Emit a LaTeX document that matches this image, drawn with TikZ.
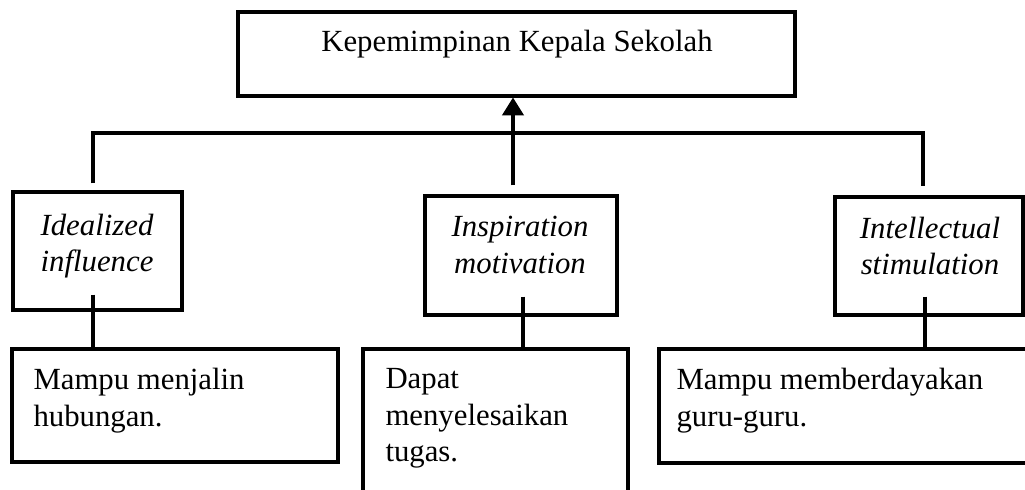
\documentclass[tikz,border=0pt]{standalone}
\usepackage{fontspec}
\setmainfont{Liberation Serif}
\usetikzlibrary{arrows.meta}
\def\pxu{0.39pt}
\tikzset{
  box/.style={draw,line width=1.2pt,rectangle,inner sep=0pt},
  link/.style={line width=1.2pt},
  uparrow/.style={line width=1.2pt,-{Triangle[width=8.4pt,length=7pt]}},
  txt/.style={inner sep=0pt,font=\fontsize{12}{14.2}\selectfont},
  itxt/.style={inner sep=0pt,font=\fontsize{12}{14.2}\selectfont\itshape,align=center},
}
\begin{document}
\begin{tikzpicture}[x=\pxu,y=-\pxu]
\useasboundingbox (0,0) rectangle (1025,489);
\clip (0,0) rectangle (1025,489);
% top box
\draw (516.5,54)node[box,minimum width=557*\pxu,minimum height=84*\pxu](head){}
 (517,51)node[txt,anchor=base](headtxt){Kepemimpinan Kepala Sekolah};
% second row
\draw (97.5,251)node[box,minimum width=169*\pxu,minimum height=118*\pxu](ideal){}
 (97,246)node[itxt](idealtxt){Idealized\\influence};
\draw (521,255.5)node[box,minimum width=192*\pxu,minimum height=119*\pxu](insp){}
 (520,245)node[itxt](insptxt){Inspiration\\motivation};
\draw (929,256)node[box,minimum width=188*\pxu,minimum height=118*\pxu](intel){}
 (930,246)node[itxt](inteltxt){Intellectual\\stimulation};
% bottom row
\draw (175,405.5)node[box,minimum width=326*\pxu,minimum height=113*\pxu](res1){}
 (33,368)node[txt,anchor=north west,align=left](res1txt){Mampu menjalin\\hubungan.};
\draw (495.5,430)node[box,minimum width=265*\pxu,minimum height=162*\pxu](res2){}
 (385,368)node[txt,anchor=north west,align=left](res2txt){Dapat\\menyelesaikan\\tugas.};
\draw (852,406)node[box,minimum width=386*\pxu,minimum height=114*\pxu](res3){}
 (676,368)node[txt,anchor=north west,align=left](res3txt){Mampu memberdayakan\\guru-guru.};
% connectors
\coordinate (hub) at (513,133);
\draw[link] ([shift={(-4.5,-7)}]ideal.north) |- (hub) -| ([shift={(-6,-9)}]intel.north);
\draw[uparrow] ([shift={(-8,-9)}]insp.north) -- (hub) -- (hub |- head.south);
\draw[link] ([shift={(-4.5,-17)}]ideal.south) coordinate(s1) -- (s1 |- res1.north);
\draw[link] ([shift={(2,-20)}]insp.south) coordinate(s2) -- (s2 |- res2.north);
\draw[link] ([shift={(-4,-20)}]intel.south) coordinate(s3) -- (s3 |- res3.north);
\end{tikzpicture}
\end{document}
